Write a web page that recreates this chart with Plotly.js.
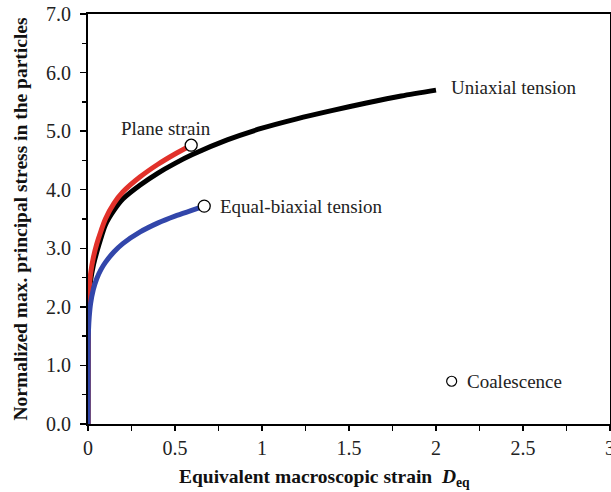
<!DOCTYPE html>
<html>
<head>
<meta charset="utf-8">
<script src="https://cdn.plot.ly/plotly-3.0.1.min.js"></script>
<style>html,body{margin:0;padding:0;background:#fff;}#chart{width:611px;height:492px;}</style>
</head>
<body>
<div id="chart"></div>
<script>
// Uniaxial tension (black)
var uniX = [0, 0.001, 0.003, 0.007, 0.015, 0.03, 0.05, 0.075, 0.1, 0.15, 0.2, 0.3, 0.4, 0.5, 0.6, 0.8, 1.0, 1.2, 1.4, 1.6, 1.8, 2.0];
var uniY = [0, 1.5, 1.95, 2.2, 2.45, 2.7, 2.93, 3.18, 3.4, 3.65, 3.84, 4.08, 4.28, 4.45, 4.6, 4.85, 5.05, 5.21, 5.35, 5.48, 5.6, 5.7];
// Plane strain (red)
var psX = [0, 0.001, 0.003, 0.007, 0.015, 0.03, 0.05, 0.075, 0.1, 0.15, 0.2, 0.3, 0.4, 0.5, 0.593];
var psY = [0, 1.6, 2.05, 2.32, 2.57, 2.83, 3.07, 3.3, 3.5, 3.77, 3.96, 4.22, 4.43, 4.61, 4.76];
// Equal-biaxial tension (blue)
var ebX = [0, 0.001, 0.003, 0.007, 0.015, 0.03, 0.05, 0.075, 0.1, 0.15, 0.2, 0.3, 0.4, 0.5, 0.6, 0.668];
var ebY = [0, 1.35, 1.61, 1.83, 2.06, 2.29, 2.48, 2.64, 2.76, 2.94, 3.08, 3.28, 3.43, 3.55, 3.65, 3.72];
// Coalescence points (open circles)
var coalX = [0.593, 0.668];
var coalY = [4.76, 3.72];
var legendMarkX = [2.09];
var legendMarkY = [0.73];

var yTickVals = [0, 1, 2, 3, 4, 5, 6, 7];
var yTickText = ["0.0", "1.0", "2.0", "3.0", "4.0", "5.0", "6.0", "7.0"];
var xTickVals = [0, 0.5, 1, 1.5, 2, 2.5, 3];
var xTickText = ["0", "0.5", "1", "1.5", "2", "2.5", "3"];

var serif = "Liberation Serif, Times New Roman, serif";

var traces = [
  {x: uniX, y: uniY, mode: "lines", line: {color: "#000000", width: 5, shape: "spline", smoothing: 0.8}, hoverinfo: "skip"},
  {x: psX, y: psY, mode: "lines", line: {color: "#e2312a", width: 5, shape: "spline", smoothing: 0.8}, hoverinfo: "skip"},
  {x: ebX, y: ebY, mode: "lines", line: {color: "#3246aa", width: 5, shape: "spline", smoothing: 0.8}, hoverinfo: "skip"},
  {x: coalX, y: coalY, mode: "markers", marker: {symbol: "circle", size: 12, color: "#ffffff", line: {color: "#000000", width: 1.3}}, hoverinfo: "skip"},
  {x: legendMarkX, y: legendMarkY, mode: "markers", marker: {symbol: "circle", size: 10, color: "#ffffff", line: {color: "#000000", width: 1.2}}, hoverinfo: "skip"}
];

var annFont = {family: serif, size: 19, color: "#222222"};
var layout = {
  width: 611, height: 492,
  margin: {l: 88, r: 1, t: 14, b: 68},
  paper_bgcolor: "#ffffff", plot_bgcolor: "#ffffff",
  showlegend: false,
  font: {family: serif, size: 20, color: "#222222"},
  xaxis: {
    range: [0, 3], tickvals: xTickVals, ticktext: xTickText,
    ticks: "outside", ticklen: 5, tickwidth: 1.5, tickcolor: "#000",
    minor: {dtick: 0.25, tick0: 0, ticks: "outside", ticklen: 5, tickwidth: 1.5, tickcolor: "#000", showgrid: false},
    showline: true, linecolor: "#000", linewidth: 2, mirror: true,
    showgrid: false, zeroline: false,
    ticklabeloverflow: "allow",
    tickfont: {family: serif, size: 20, color: "#222"}
  },
  yaxis: {
    range: [0, 7], tickvals: yTickVals, ticktext: yTickText,
    ticks: "outside", ticklen: 6, tickwidth: 1.5, tickcolor: "#000",
    minor: {dtick: 0.5, tick0: 0, ticks: "outside", ticklen: 4, tickwidth: 1.5, tickcolor: "#000", showgrid: false},
    showline: true, linecolor: "#000", linewidth: 2, mirror: true,
    showgrid: false, zeroline: false,
    ticklabelstandoff: 5,
    tickfont: {family: serif, size: 20, color: "#222"},
    title: {text: "<b>Normalized max. principal stress in the particles</b>", font: {family: serif, size: 19.5, color: "#111"}, standoff: 13}
  },
  annotations: [
    {x: 0.454, y: 0, xref: "paper", yref: "paper", yshift: -40, text: "<b>Equivalent macroscopic strain&nbsp;&nbsp;<i>D</i><sub>eq</sub></b>", showarrow: false, xanchor: "center", yanchor: "top", font: {family: serif, size: 19.5, color: "#111"}},
    {x: 0.447, y: 5.04, xref: "x", yref: "y", text: "Plane strain", showarrow: false, xanchor: "center", yanchor: "middle", font: annFont},
    {x: 0.745, y: 3.72, xref: "x", yref: "y", text: "Equal-biaxial tension", showarrow: false, xanchor: "left", yanchor: "middle", font: annFont},
    {x: 2.074, y: 5.74, xref: "x", yref: "y", text: "Uniaxial tension", showarrow: false, xanchor: "left", yanchor: "middle", font: annFont},
    {x: 2.165, y: 0.73, xref: "x", yref: "y", text: "Coalescence", showarrow: false, xanchor: "left", yanchor: "middle", font: annFont}
  ]
};

Plotly.newPlot("chart", traces, layout, {displayModeBar: false, staticPlot: true});
</script>
</body>
</html>
